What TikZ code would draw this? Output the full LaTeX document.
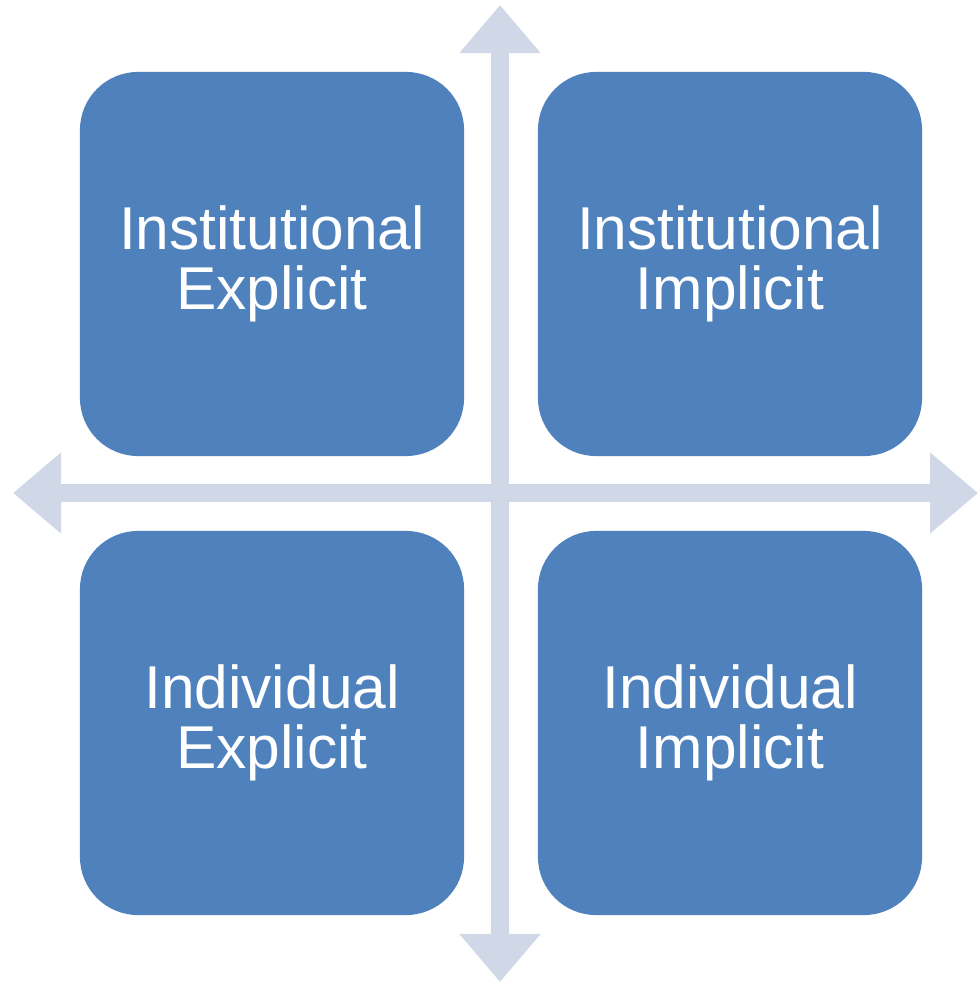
\documentclass[tikz,border=0pt]{standalone}
\usepackage{fontspec}
\setmainfont{Liberation Sans}
\usetikzlibrary{arrows.meta}
\definecolor{boxblue}{HTML}{4F81BD}
\definecolor{axisgrey}{HTML}{D0D8E8}
\tikzset{quad/.style={fill=boxblue, draw=none, rounded corners=1.45cm, minimum width=9.6cm, minimum height=9.6cm, inner sep=0pt, text=white, align=center, font=\fontsize{43}{43}\selectfont}}
\tikzset{axis/.style={axisgrey, line width=0.46cm, {Triangle[length=1.2cm,width=1.95cm]}-{Triangle[length=1.2cm,width=1.95cm]}}}

\begin{document}
\begin{tikzpicture}[x=0.025cm,y=-0.025cm]
  \useasboundingbox (0,0) rectangle (978,983);
  \coordinate (top) at (500,5);
  \coordinate (bot) at (500,982);
  \coordinate (lft) at (13,493);
  \coordinate (rgt) at (978,493);

  \draw[axis] (bot) -- (top);
  \draw[axis] (lft) -- (rgt);

  \node[quad] (instexp) at (272,264) {Institutional\\Explicit};
  \node[quad] (instimp) at (730,264) {Institutional\\Implicit};
  \node[quad] (indexp)  at (272,723) {Individual\\Explicit};
  \node[quad] (indimp)  at (730,723) {Individual\\Implicit};
\end{tikzpicture}
\end{document}
